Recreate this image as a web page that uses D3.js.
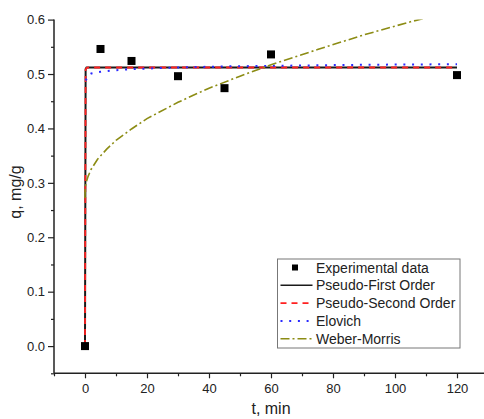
<!DOCTYPE html>
<html>
<head>
<meta charset="utf-8">
<script src="https://cdn.jsdelivr.net/npm/d3@7"></script>
<style>
  body { margin: 0; background: #fff; }
  svg { display: block; font-family: Arial, "Liberation Sans", sans-serif; }
</style>
</head>
<body>
<div id="chart"></div>
<script>
// experimental points
const expT = [0, 5, 15, 30, 45, 60, 120];
const expQ = [0, 0.546, 0.524, 0.496, 0.474, 0.536, 0.498];

// model curves
const pfoT = [0, 0.2, 0.5, 1, 2, 5, 10, 20, 30, 45, 60, 90, 120];
const pfoQ = [0, 0.509, 0.512, 0.512, 0.512, 0.512, 0.512, 0.512, 0.512, 0.512, 0.512, 0.512, 0.512];
const psoT = [0, 0.2, 0.5, 1, 2, 5, 10, 20, 30, 45, 60, 90, 120];
const psoQ = [0, 0.508, 0.511, 0.512, 0.512, 0.512, 0.512, 0.512, 0.512, 0.512, 0.512, 0.512, 0.512];
const eloT = [0.3, 0.6, 1, 2, 5, 10, 15, 20, 30, 45, 60, 90, 120];
const eloQ = [0.488, 0.494, 0.498, 0.501, 0.504, 0.507, 0.509, 0.510, 0.512, 0.514, 0.515, 0.517, 0.518];
const wmT = [0, 0.1, 0.5, 1, 2, 4, 7, 10, 15, 20, 30, 40, 50, 60, 75, 90, 105, 120];
const wmQ = [0.272, 0.292, 0.303, 0.312, 0.325, 0.343, 0.362, 0.378, 0.399, 0.418, 0.448, 0.474, 0.496, 0.517, 0.545, 0.572, 0.596, 0.618];

const legendLabels = ["Experimental data", "Pseudo-First Order", "Pseudo-Second Order", "Elovich", "Weber-Morris"];
const xTicks = [0, 20, 40, 60, 80, 100, 120];
const yTicks = [0.0, 0.1, 0.2, 0.3, 0.4, 0.5, 0.6];

const width = 484, height = 419;
const svg = d3.select("#chart").append("svg").attr("width", width).attr("height", height);

const x = d3.scaleLinear().domain([-10, 130]).range([54, 488]);
const y = d3.scaleLinear().domain([-0.05, 0.6]).range([373.3, 19.6]);

svg.append("defs").append("clipPath").attr("id", "plot")
  .append("rect").attr("x", 54).attr("y", y(0.6)).attr("width", 440).attr("height", y(-0.05) - y(0.6));

// axes
const axisColor = "#222";
const xMinor = d3.range(-10, 131, 10).filter(v => v % 20 !== 0);
const yMinor = d3.range(-0.05, 0.6, 0.1).map(v => +v.toFixed(2));

const xAxis = svg.append("g").attr("transform", `translate(0,${y(-0.05)})`)
  .call(d3.axisBottom(x).tickValues(xTicks).tickSize(5).tickPadding(5).tickFormat(d3.format("d")));
svg.append("g").attr("transform", `translate(0,${y(-0.05)})`)
  .call(d3.axisBottom(x).tickValues(xMinor).tickSize(3).tickFormat(""))
  .select(".domain").remove();

const yAxis = svg.append("g").attr("transform", `translate(${x(-10)},0)`)
  .call(d3.axisLeft(y).tickValues(yTicks).tickSize(6).tickPadding(3).tickFormat(d3.format(".1f")));
svg.append("g").attr("transform", `translate(${x(-10)},0)`)
  .call(d3.axisLeft(y).tickValues(yMinor).tickSize(3).tickFormat(""))
  .select(".domain").remove();

svg.selectAll(".domain").attr("stroke", axisColor).attr("stroke-width", 1.5);
xAxis.select(".domain").attr("d", `M${x(-10)},0H${width + 10}`);
yAxis.select(".domain").attr("d", `M0,${y(-0.05)}V${y(0.6)}`);
svg.selectAll(".tick line").attr("stroke", axisColor).attr("stroke-width", 1.2);
svg.selectAll(".tick text").attr("fill", "#222").style("font-size", "13px").style("font-family", "Arial, 'Liberation Sans', sans-serif");

// axis titles
svg.append("text").attr("x", x(60)).attr("y", 414).attr("text-anchor", "middle")
  .style("font-size", "16px").attr("fill", "#222").text("t, min");
svg.append("text").attr("transform", "translate(21,192) rotate(-90)").attr("text-anchor", "middle")
  .style("font-size", "16px").attr("fill", "#222").text("q, mg/g");

// curves
const plot = svg.append("g").attr("clip-path", "url(#plot)");
const line = d3.line().x(d => x(d[0])).y(d => y(d[1]));
const zip = (a, b) => a.map((v, i) => [v, b[i]]);

const styles = [
  { data: zip(pfoT, pfoQ), color: "#1a1a1a", width: 2, dash: null },
  { data: zip(psoT, psoQ), color: "#ff2020", width: 1.8, dash: "6,5" },
  { data: zip(eloT, eloQ), color: "#2a2aff", width: 2, dash: "2,6.7" },
  { data: zip(wmT, wmQ), color: "#8c8c14", width: 1.6, dash: "9,3,2,3" }
];
styles.forEach(s => {
  plot.append("path").datum(s.data).attr("d", line)
    .attr("fill", "none").attr("stroke", s.color).attr("stroke-width", s.width)
    .attr("stroke-dasharray", s.dash);
});

// experimental points
plot.selectAll("rect.pt").data(zip(expT, expQ)).enter().append("rect")
  .attr("class", "pt")
  .attr("x", d => x(d[0]) - 4).attr("y", d => y(d[1]) - 4)
  .attr("width", 8).attr("height", 8).attr("fill", "#000");

// legend
const lg = svg.append("g").attr("transform", "translate(277.5,259)");
lg.append("rect").attr("width", 182.5).attr("height", 89).attr("fill", "#fff")
  .attr("stroke", "#777").attr("stroke-width", 1);
legendLabels.forEach((lab, i) => {
  const cy = 8.5 + i * 17.8;
  const row = lg.append("g").attr("transform", `translate(0,${cy})`);
  if (i === 0) {
    row.append("rect").attr("x", 14.5).attr("y", -3).attr("width", 6).attr("height", 6).attr("fill", "#000");
  } else {
    const s = styles[i - 1];
    row.append("line").attr("x1", 3).attr("x2", 35).attr("y1", 0).attr("y2", 0)
      .attr("stroke", s.color).attr("stroke-width", i === 1 ? 1.5 : s.width)
      .attr("stroke-dasharray", s.dash);
  }
  row.append("text").attr("x", 38.5).attr("y", 5).style("font-size", "14px").attr("fill", "#222").text(lab);
});
</script>
</body>
</html>
